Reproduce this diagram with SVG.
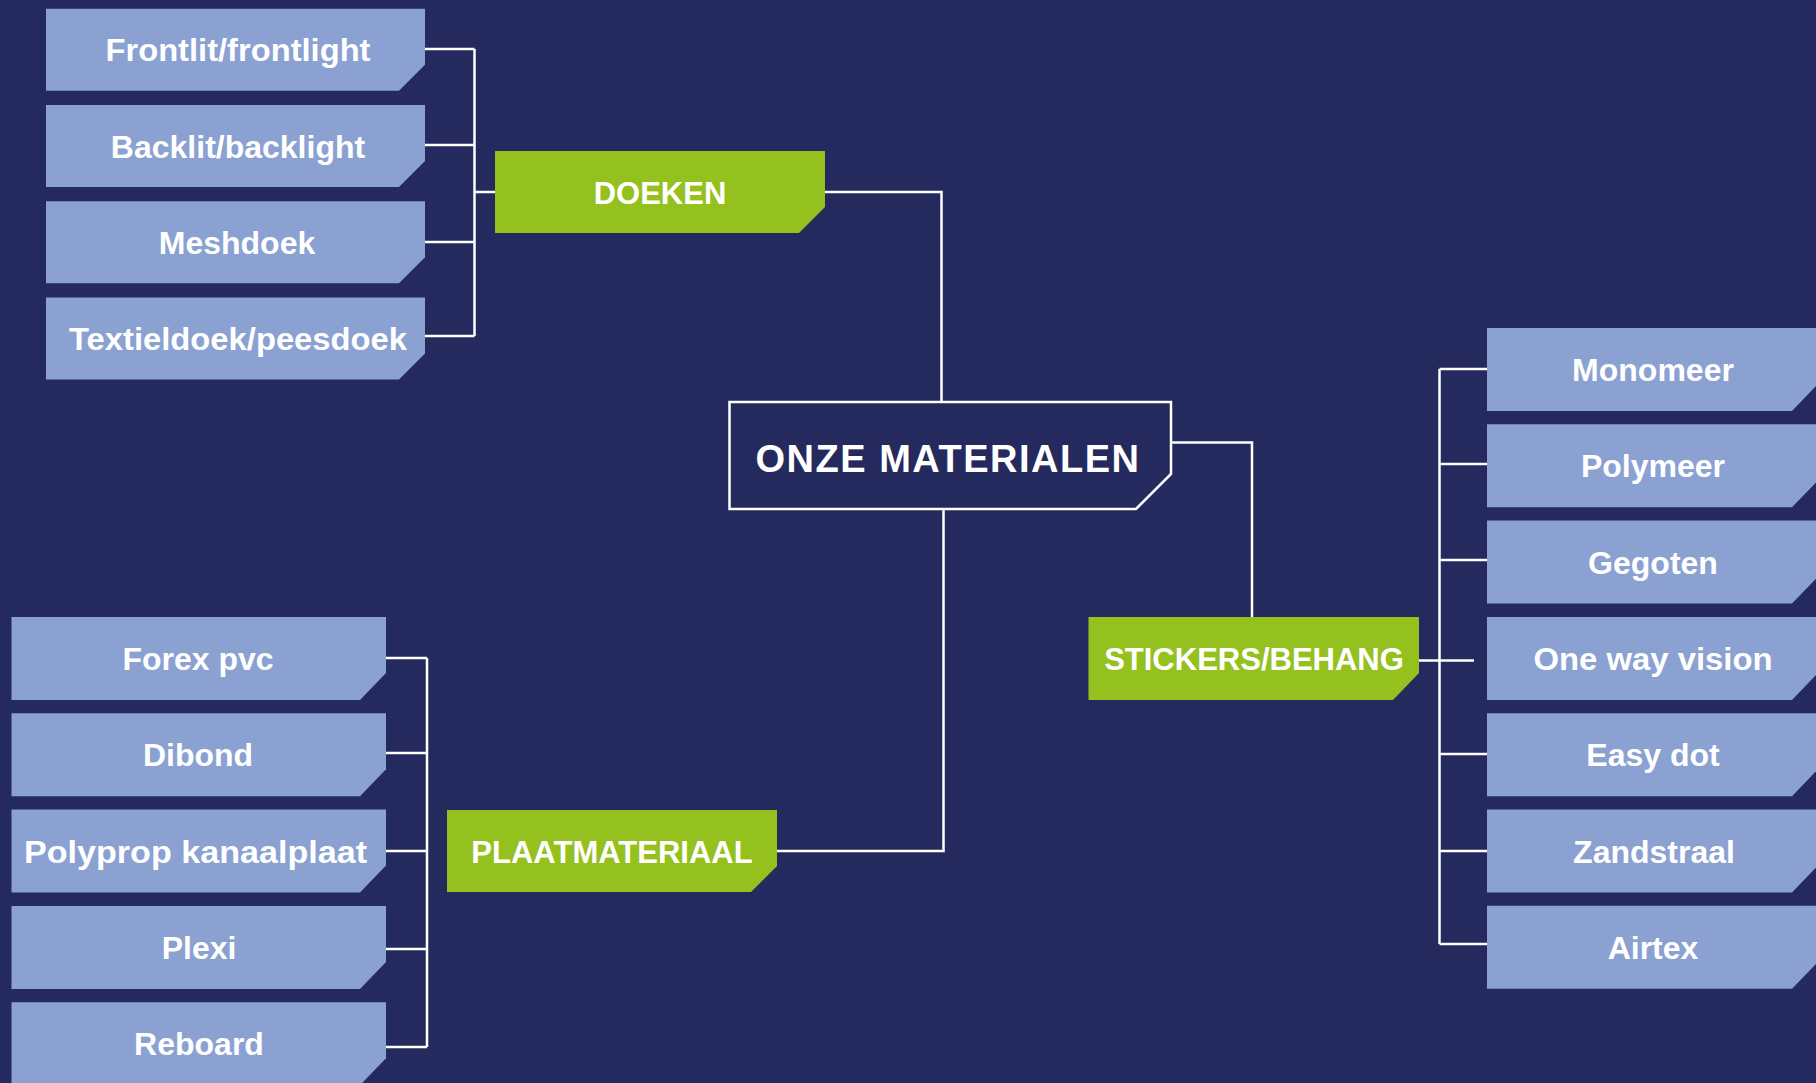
<svg xmlns="http://www.w3.org/2000/svg" width="1816" height="1083" viewBox="0 0 1816 1083">
<style>
.bg{fill:#252a5e}
.item{fill:#8aa1d2}
.cat{fill:#95c11f}
.root{fill:#252a5e;stroke:#ffffff;stroke-width:2.5}
.t{font-family:"Liberation Sans",Arial,sans-serif;font-weight:bold;fill:#ffffff;text-anchor:middle}
.ti{font-size:32px}
.tc{font-size:31px}
.tr{font-size:38px;letter-spacing:1.5px}
.c{fill:none;stroke:#ffffff;stroke-width:2.5}
</style>
<rect class="bg" x="0" y="0" width="1816" height="1083"/>

<g id="connectors">
<path class="c" d="M425 49H474.5M425 145H474.5M425 242H474.5M425 336H474.5M474.5 49V336M474.5 192H495"/>
<path class="c" d="M825 192H941.5V402"/>
<path class="c" d="M1171 442.5H1252V617"/>
<path class="c" d="M943.5 509V851H777"/>
<path class="c" d="M386 658H427M386 753H427M386 851H427M386 949H427M386 1047H427M427 658V1047"/>
<path class="c" d="M1439.5 369V944M1439.5 369H1487M1439.5 464H1487M1439.5 560H1487M1439.5 754H1487M1439.5 851H1487M1439.5 944H1487M1419 660.5H1474"/>
</g>

<g id="root">
<path class="root" d="M729.5 402H1171V474L1136 509H729.5Z"/>
<text class="t tr" x="948" y="472">ONZE MATERIALEN</text>
</g>

<g id="doeken">
<path class="cat" d="M495 151H825V207L799 233H495Z"/>
<text class="t tc" x="660" y="204">DOEKEN</text>
</g>
<g id="plaatmateriaal">
<path class="cat" d="M447 810H777V866L751 892H447Z"/>
<text class="t tc" x="612" y="863">PLAATMATERIAAL</text>
</g>
<g id="stickers">
<path class="cat" d="M1088.5 617H1419V673L1393 700H1088.5Z"/>
<text class="t tc" x="1254" y="670">STICKERS/BEHANG</text>
</g>

<g id="frontlit"><path class="item" d="M46 8.7H425V64.7L399 90.7H46Z"/><text class="t ti" x="238" y="61" textLength="265" lengthAdjust="spacingAndGlyphs">Frontlit/frontlight</text></g>
<g id="backlit"><path class="item" d="M46 105H425V161L399 187H46Z"/><text class="t ti" x="238" y="157.5">Backlit/backlight</text></g>
<g id="meshdoek"><path class="item" d="M46 201.3H425V257.3L399 283.3H46Z"/><text class="t ti" x="237" y="254">Meshdoek</text></g>
<g id="textieldoek"><path class="item" d="M46 297.6H425V353.6L399 379.6H46Z"/><text class="t ti" x="238" y="350" textLength="338" lengthAdjust="spacingAndGlyphs">Textieldoek/peesdoek</text></g>

<g id="forex"><path class="item" d="M11.5 617H386V673L360 700H11.5Z"/><text class="t ti" x="198" y="670">Forex pvc</text></g>
<g id="dibond"><path class="item" d="M11.5 713.3H386V769.3L360 796.3H11.5Z"/><text class="t ti" x="198" y="766.3">Dibond</text></g>
<g id="polyprop"><path class="item" d="M11.5 809.6H386V865.6L360 892.6H11.5Z"/><text class="t ti" x="195.5" y="862.6" textLength="343" lengthAdjust="spacingAndGlyphs">Polyprop kanaalplaat</text></g>
<g id="plexi"><path class="item" d="M11.5 905.9H386V961.9L360 988.9H11.5Z"/><text class="t ti" x="199" y="959">Plexi</text></g>
<g id="reboard"><path class="item" d="M11.5 1002.2H386V1058.2L360 1085.2H11.5Z"/><text class="t ti" x="199" y="1055">Reboard</text></g>

<g id="monomeer"><path class="item" d="M1487 328H1818V384L1792 411H1487Z"/><text class="t ti" x="1653" y="381">Monomeer</text></g>
<g id="polymeer"><path class="item" d="M1487 424.3H1818V480.3L1792 507.3H1487Z"/><text class="t ti" x="1653" y="477.3">Polymeer</text></g>
<g id="gegoten"><path class="item" d="M1487 520.6H1818V576.6L1792 603.6H1487Z"/><text class="t ti" x="1653" y="573.6">Gegoten</text></g>
<g id="oneway"><path class="item" d="M1487 616.9H1818V672.9L1792 699.9H1487Z"/><text class="t ti" x="1653" y="670" textLength="239" lengthAdjust="spacingAndGlyphs">One way vision</text></g>
<g id="easydot"><path class="item" d="M1487 713.2H1818V769.2L1792 796.2H1487Z"/><text class="t ti" x="1653" y="766.2">Easy dot</text></g>
<g id="zandstraal"><path class="item" d="M1487 809.5H1818V865.5L1792 892.5H1487Z"/><text class="t ti" x="1654" y="862.5">Zandstraal</text></g>
<g id="airtex"><path class="item" d="M1487 905.8H1818V961.8L1792 988.8H1487Z"/><text class="t ti" x="1653" y="958.8">Airtex</text></g>
</svg>
